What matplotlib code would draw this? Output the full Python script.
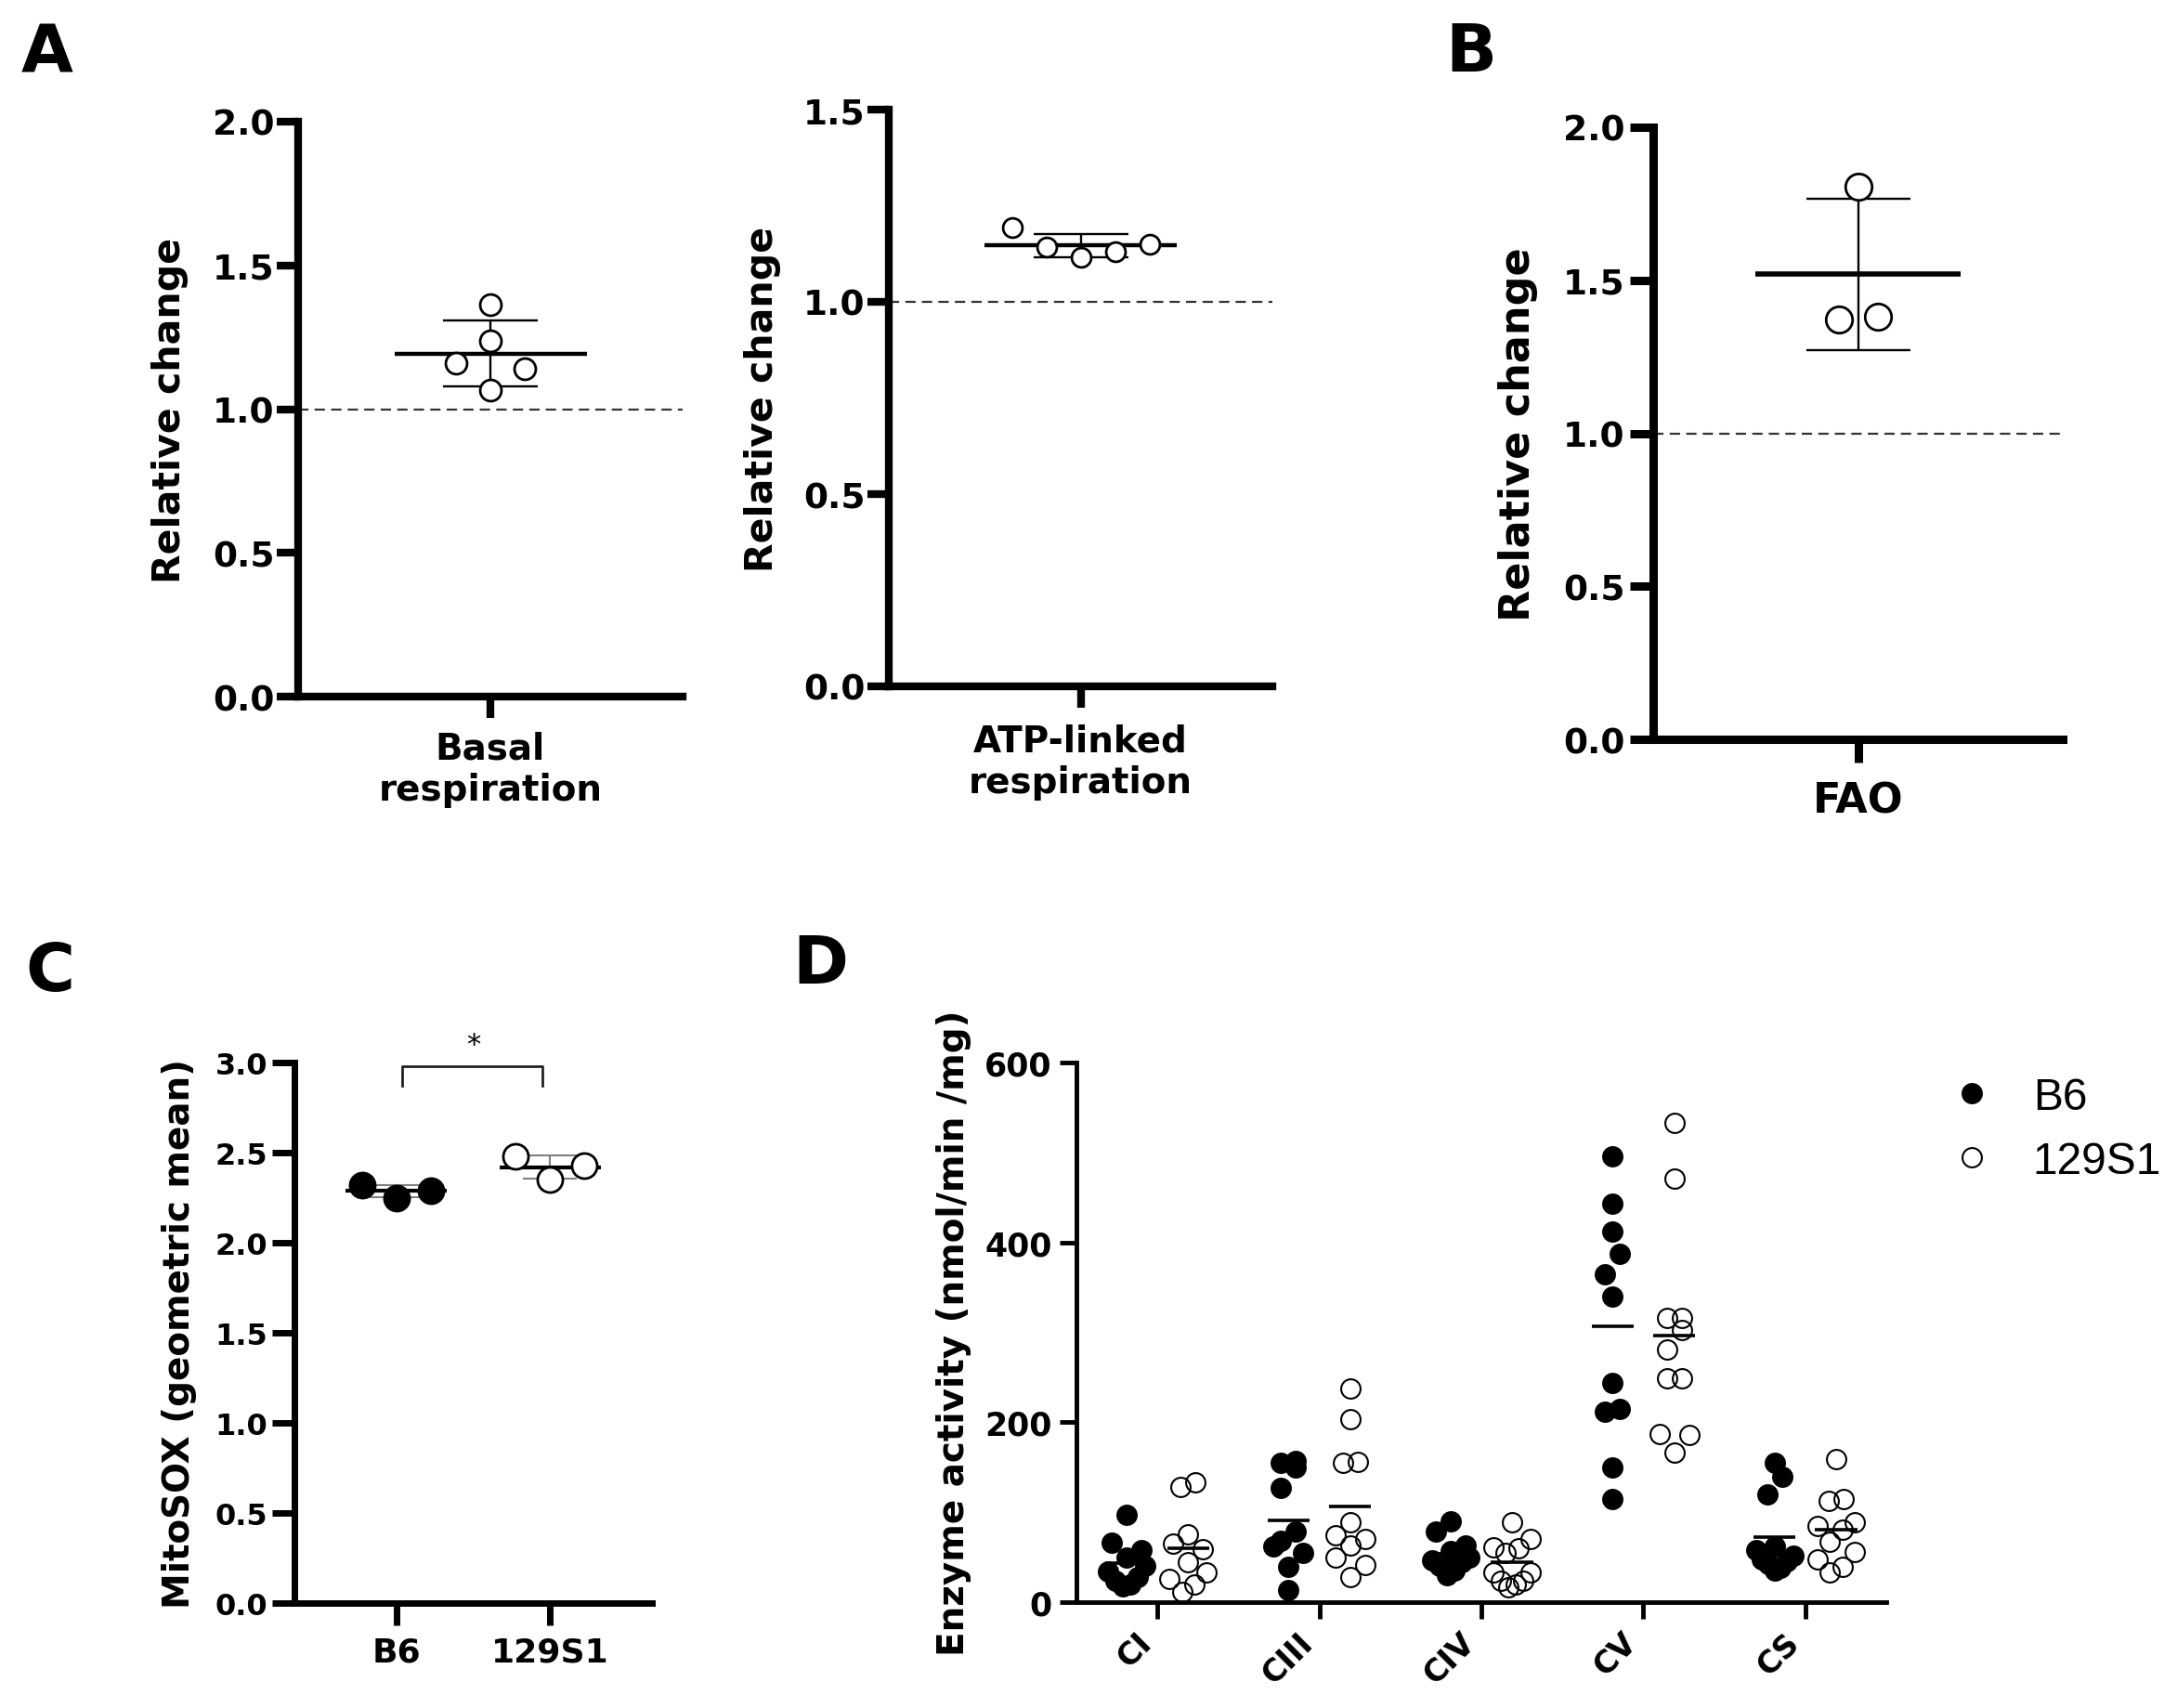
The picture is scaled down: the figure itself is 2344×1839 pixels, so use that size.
import numpy as np
import matplotlib
matplotlib.use('Agg')
import matplotlib.pyplot as plt
from matplotlib.lines import Line2D

# ---- data ----
basal = [1.365, 1.236, 1.160, 1.141, 1.065]
atp_linked = [1.193, 1.142, 1.115, 1.131, 1.150]
fao = [1.805, 1.373, 1.380]

mitosox_b6 = [2.32, 2.25, 2.29]
mitosox_129 = [2.48, 2.35, 2.43]
strains = ['B6', '129S1']

enzymes = ['CI', 'CIII', 'CIV', 'CV', 'CS']
ci_b6 = [97, 66, 58, 50, 40, 34, 28, 24, 20, 18]
ciii_b6 = [157, 155, 150, 127, 79, 68, 62, 55, 39, 13]
civ_b6 = [90, 79, 63, 57, 50, 46, 44, 40, 35, 30]
cv_b6 = [496, 443, 412, 387, 365, 340, 244, 215, 212, 150, 115]
cs_b6 = [155, 139, 120, 62, 58, 52, 48, 45, 42, 38, 35]
ci_129 = [133, 128, 75, 65, 59, 44, 33, 26, 20, 11]
ciii_129 = [238, 203, 156, 155, 89, 74, 70, 63, 50, 41, 28]
civ_129 = [89, 70, 61, 60, 55, 33, 33, 24, 24, 20, 17]
cv_129 = [533, 471, 316, 316, 303, 281, 249, 249, 187, 186, 166]
cs_129 = [159, 115, 113, 89, 85, 81, 67, 56, 47, 39, 33]

plt.rcParams['font.family'] = ['DejaVu Sans']
plt.rcParams['font.weight'] = 'bold'
plt.rcParams['axes.labelweight'] = 'bold'

W, H = 2344, 1840
fig = plt.figure(figsize=(W / 100, H / 100), dpi=100)


def panel(l, r, top, bot):
    return fig.add_axes([l / W, 1 - bot / H, (r - l) / W, (bot - top) / H])


def style(ax, lw, tlen, ysize, xsize, ypad, xpad):
    for s in ['top', 'right']:
        ax.spines[s].set_visible(False)
    for s in ['left', 'bottom']:
        ax.spines[s].set_linewidth(lw)
    ax.tick_params(axis='both', direction='out', length=tlen, width=lw)
    ax.tick_params(axis='y', labelsize=ysize, pad=ypad)
    ax.tick_params(axis='x', labelsize=xsize, pad=xpad)


def swarm(ax, x0, vals, row_px, step_px, max_half=None):
    """GraphPad-like column scatter: group close values in rows, spread rows sideways"""
    vals = np.asarray(vals, float)
    pts = ax.transData.transform(np.column_stack([np.full(len(vals), x0), vals]))
    ypx = pts[:, 1]
    order = np.argsort(vals, kind='stable')
    rows = []
    for i in order:
        if rows and ypx[i] - ypx[rows[-1][0]] < row_px:
            rows[-1].append(i)
        else:
            rows.append([i])
    xpx = np.zeros(len(vals))
    for row in rows:
        n = len(row)
        step = step_px
        if max_half is not None and n > 1:
            step = min(step, 2.0 * max_half / (n - 1))
        if n % 2:
            slots = [0] + [s for k in range(1, n // 2 + 1) for s in (k, -k)]
        else:
            slots = [s for k in range(n // 2) for s in (-(k + 0.5), k + 0.5)]
        for i, s in zip(row, slots):
            xpx[i] = s * step
    ppu = ax.transData.transform([[1, 0]])[0, 0] - ax.transData.transform([[0, 0]])[0, 0]
    return x0 + xpx / ppu


def rel_panel(ax, vals, label, top, ticks, slot, ms, mean_lw, err_lw, cap):
    ax.set_xlim(-1, 1)
    ax.set_ylim(0, top)
    ax.axhline(1.0, color='#333333', lw=1.6, ls=(0, (5, 3)), zorder=1)
    m = np.mean(vals)
    sd = np.std(vals, ddof=1)
    ax.errorbar(0, m, yerr=sd, fmt='none', ecolor='black', elinewidth=err_lw,
                capsize=cap, capthick=err_lw, zorder=2)
    ax.hlines(m, -0.5, 0.5, color='black', lw=mean_lw, zorder=2)
    xs = swarm(ax, 0, vals, slot, slot)
    ax.plot(xs, vals, 'o', ms=ms, mfc='white', mec='black', mew=2, zorder=3, clip_on=False)
    ax.set_xticks([0])
    ax.set_xticklabels([label])
    ax.set_yticks(ticks)
    ax.yaxis.set_major_formatter('{x:.1f}')


# ---- A: basal respiration ----
ax1 = panel(321, 735, 132, 751)
style(ax1, 6, 16.5, 27, 28, 2, 10)
rel_panel(ax1, basal, 'Basal\nrespiration', 2.0, [0, 0.5, 1.0, 1.5, 2.0], 37, 16.5, 3.2, 1.7, 37)
ax1.set_ylabel('Relative change', fontsize=29.5)
ax1.yaxis.set_label_coords(-0.285, 0.5)

# ---- A: ATP-linked ----
ax2 = panel(957, 1370, 119, 740)
style(ax2, 6, 16.5, 27, 28, 2, 12)
rel_panel(ax2, atp_linked, 'ATP-linked\nrespiration', 1.5, [0, 0.5, 1.0, 1.5], 37, 15, 3.2, 1.7, 37)
ax2.set_ylabel('Relative change', fontsize=29.5)
ax2.yaxis.set_label_coords(-0.281, 0.5)

# ---- B: FAO ----
ax3 = panel(1780, 2221, 138, 797)
style(ax3, 6.5, 18, 27, 32, 4, 14)
rel_panel(ax3, fao, 'FAO', 2.0, [0, 0.5, 1.0, 1.5, 2.0], 42, 20.5, 4, 1.7, 40)
ax3.set_ylabel('Relative change', fontsize=32)
ax3.yaxis.set_label_coords(-0.281, 0.5)

# ---- C: MitoSOX ----
ax4 = panel(317, 702, 1145, 1727)
style(ax4, 5, 17.5, 23, 26, 3, 8)
ax4.set_xlim(0.34, 2.66)
ax4.set_ylim(0, 3.0)
for pos, vals, fc in [(1, mitosox_b6, 'black'), (2, mitosox_129, 'white')]:
    m = np.mean(vals)
    sd = np.std(vals, ddof=1)
    ax4.errorbar(pos, m, yerr=sd, fmt='none', ecolor='#808080', elinewidth=1.5,
                 capsize=21, capthick=1.5, zorder=1)
    ax4.hlines(m, pos - 0.33, pos + 0.33, color='black', lw=3, zorder=2)
    xs = swarm(ax4, pos, vals, 37, 37)
    ax4.plot(xs, vals, 'o', ms=19.5, mfc=fc, mec='black', mew=2, zorder=3)
ax4.plot([1.04, 1.04, 1.95, 1.95], [2.87, 2.98, 2.98, 2.87], color='#222222', lw=2, clip_on=False)
ax4.text(1.5, 3.1, '*', ha='center', va='center', fontsize=22, fontweight='normal')
ax4.set_xticks([1, 2])
ax4.set_xticklabels(strains)
ax4.set_yticks(np.arange(0, 3.01, 0.5))
ax4.yaxis.set_major_formatter('{x:.1f}')
ax4.set_ylabel('MitoSOX (geometric mean)', fontsize=28)
ax4.yaxis.set_label_coords(-0.273, 0.5)

# ---- D: enzyme activities ----
ax5 = panel(1159, 2031, 1145, 1726)
style(ax5, 3.5, 13, 25, 24, 6, 6)
ax5.set_xlim(-0.5, 4.5)
ax5.set_ylim(0, 600)
b6_sets = [ci_b6, ciii_b6, civ_b6, cv_b6, cs_b6]
s129_sets = [ci_129, ciii_129, civ_129, cv_129, cs_129]
for i in range(len(enzymes)):
    for vals, off, fc in [(b6_sets[i], -0.19, 'black'), (s129_sets[i], 0.19, 'none')]:
        xs = swarm(ax5, i + off, vals, 24, 16, 20)
        ax5.plot(xs, vals, 'o', ms=15, mfc=fc, mec='black', mew=1.5, zorder=2)
        m = np.mean(vals)
        ax5.hlines(m, i + off - 0.13, i + off + 0.13, color='black', lw=2.6, zorder=3)
ax5.set_xticks(range(len(enzymes)))
ax5.set_xticklabels(enzymes, rotation=45, ha='right')
ax5.set_yticks([0, 200, 400, 600])
ax5.set_ylabel('Enzyme activity (nmol/min /mg)', fontsize=28)
ax5.yaxis.set_label_coords(-0.130, 0.5)
handles = [Line2D([], [], ls='none', marker='o', ms=15, mfc='black', mec='black', mew=1.5),
           Line2D([], [], ls='none', marker='o', ms=15, mfc='white', mec='black', mew=1.5)]
ax5.legend(handles, strains, loc='upper left', bbox_to_anchor=(2099 / W, 1 - 1160 / H),
           bbox_transform=fig.transFigure, frameon=False, borderpad=0, borderaxespad=0,
           handlelength=1, handletextpad=0.875, labelspacing=0.5,
           prop={'family': 'Liberation Sans', 'size': 34.5, 'weight': 'normal'})

# ---- panel letters ----
for txt, x, y in [('A', 23, 23), ('B', 1556, 23), ('C', 27, 1013), ('D', 853, 1005)]:
    fig.text(x / W, 1 - y / H, txt, ha='left', va='top', fontsize=52, fontweight='bold')

fig.savefig('out.png', dpi=100)
